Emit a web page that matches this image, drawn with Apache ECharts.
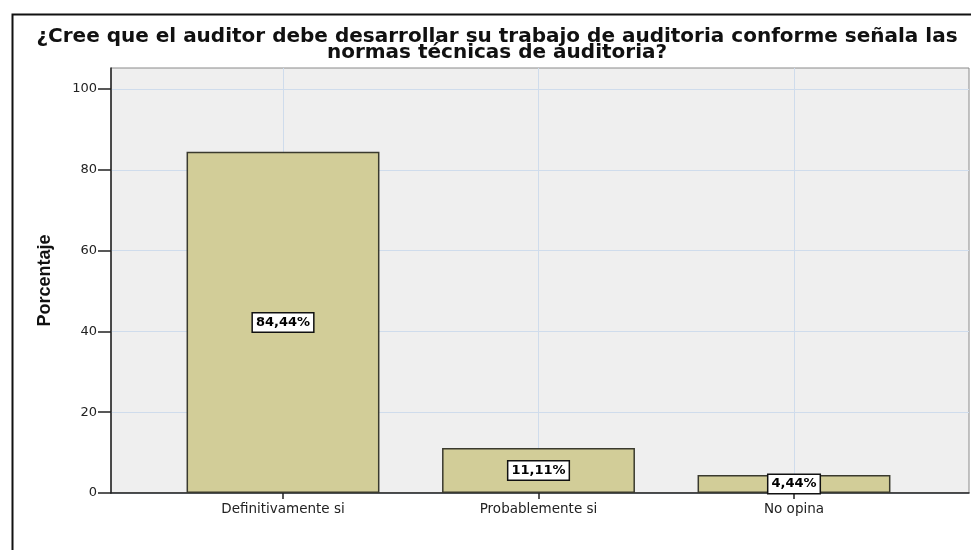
<!DOCTYPE html>
<html>
<head>
<meta charset="utf-8">
<script src="https://cdn.jsdelivr.net/npm/echarts@6/dist/echarts.min.js"></script>
<style>
html,body{margin:0;padding:0;background:#fff;}
#main{width:971px;height:550px;}
</style>
</head>
<body>
<div id="main"></div>
<script>
var titleLines = ['¿Cree que el auditor debe desarrollar su trabajo de auditoria conforme señala las', 'normas técnicas de auditoria?'];
var categories = ['Definitivamente si', 'Probablemente si', 'No opina'];
var percentages = [84.44, 11.11, 4.44];
var yTicks = [0, 20, 40, 60, 80, 100];
var yAxisName = 'Porcentaje';

var plotTop = 68, plotBottom = 493, tickTop = 89;
var yMaxFull = yTicks[yTicks.length - 1] * (plotBottom - plotTop) / (plotBottom - tickTop);

var gridColor = '#cfdcec';
var chart = echarts.init(document.getElementById('main'), null, {renderer: 'canvas'});
chart.setOption({
  animation: false,
  backgroundColor: '#ffffff',
  title: {
    text: titleLines.join('\n'),
    left: 497, top: 29, padding: 0,
    textAlign: 'center',
    textStyle: {fontFamily: 'DejaVu Sans', fontWeight: 'bold', fontSize: 20, lineHeight: 16, color: '#111'}
  },
  graphic: [{
    type: 'rect', left: 10, top: 12, silent: true,
    shape: {width: 990, height: 570},
    style: {fill: 'none', stroke: '#111', lineWidth: 2}
  }],
  grid: [
    {left: 111, top: plotTop, width: 858, height: plotBottom - plotTop, show: true, backgroundColor: '#efefef', borderColor: '#8a8a8a', borderWidth: 1},
    {left: 155.25, top: plotTop, width: 766.5, height: plotBottom - plotTop},
    {left: 111, top: tickTop, width: 858, height: plotBottom - tickTop}
  ],
  xAxis: [
    {gridIndex: 0, type: 'value', min: 0, max: 1, axisLine: {show: true, lineStyle: {color: '#222', width: 1.5}}, axisTick: {show: false}, axisLabel: {show: false}, splitLine: {show: false}},
    {gridIndex: 1, type: 'category', data: categories,
      axisLine: {show: false},
      axisTick: {show: true, alignWithLabel: true, length: 6, lineStyle: {color: '#222', width: 1.5}},
      axisLabel: {margin: 9, fontFamily: 'DejaVu Sans', fontSize: 13.5, color: '#222'},
      splitLine: {show: true, alignWithLabel: true, lineStyle: {color: gridColor, width: 1}}},
    {gridIndex: 2, type: 'value', show: false, min: 0, max: 1}
  ],
  yAxis: [
    {gridIndex: 0, type: 'value', min: 0, max: yMaxFull,
      axisLine: {show: true, lineStyle: {color: '#222', width: 1.5}}, axisTick: {show: false}, axisLabel: {show: false}, splitLine: {show: false},
      name: yAxisName, nameLocation: 'middle', nameGap: 57, nameRotate: 90,
      nameTextStyle: {fontFamily: 'Liberation Sans Narrow, Liberation Sans', fontWeight: 'bold', fontSize: 18, color: '#111'}},
    {gridIndex: 1, type: 'value', min: 0, max: yMaxFull, show: false},
    {gridIndex: 2, type: 'value', min: yTicks[0], max: yTicks[yTicks.length - 1], interval: yTicks[1] - yTicks[0],
      axisLine: {show: false},
      axisTick: {show: true, length: 13, lineStyle: {color: '#222', width: 1.5}},
      axisLabel: {margin: 14, fontFamily: 'DejaVu Sans', fontSize: 13, color: '#222'},
      splitLine: {show: true, lineStyle: {color: gridColor, width: 1}}}
  ],
  series: [{
    type: 'bar', xAxisIndex: 1, yAxisIndex: 1,
    data: percentages, barWidth: '75.5%',
    itemStyle: {color: '#d2cd98', borderColor: '#3a3a2e', borderWidth: 1.5},
    label: {
      show: true, position: 'inside',
      formatter: function (p) { return p.value.toFixed(2).replace('.', ',') + '%'; },
      fontFamily: 'DejaVu Sans', fontWeight: 'bold', fontSize: 13, lineHeight: 15, color: '#000',
      backgroundColor: '#fff', borderColor: '#111', borderWidth: 1.5, padding: [2, 3, 1, 3]
    }
  }]
});
</script>
</body>
</html>
